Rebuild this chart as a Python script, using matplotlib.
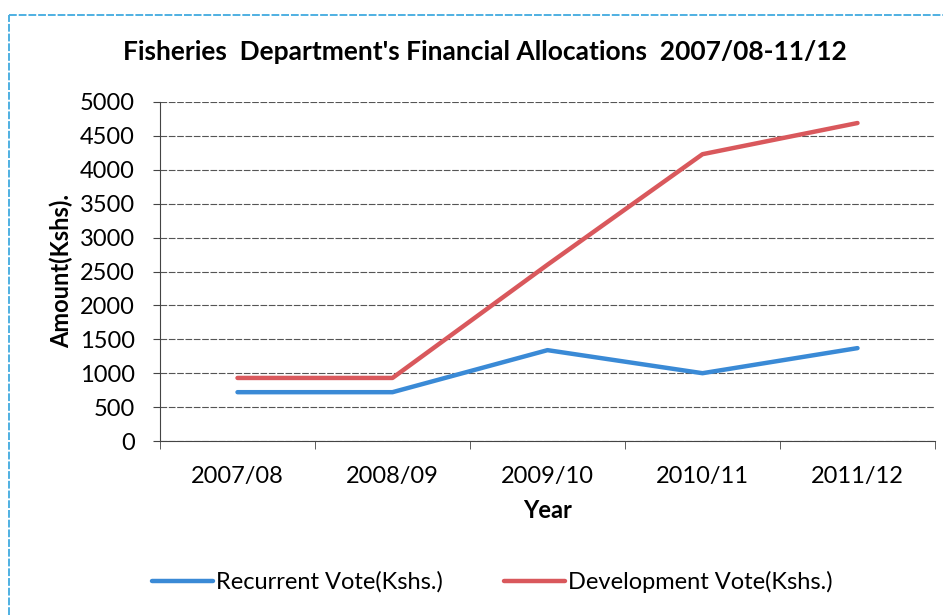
import matplotlib.pyplot as plt
from matplotlib.lines import Line2D

years = ['2007/08', '2008/09', '2009/10', '2010/11', '2011/12']
recurrent_vote = [720, 720, 1340, 1000, 1370]
development_vote = [930, 930, 2600, 4230, 4690]
y_ticks = [0, 500, 1000, 1500, 2000, 2500, 3000, 3500, 4000, 4500, 5000]

plt.rcParams['font.family'] = ['Lato', 'DejaVu Sans']

fig = plt.figure(figsize=(9.43, 6.15), dpi=100)
ax = fig.add_axes([160 / 943, 1 - 441 / 615, 775 / 943, 339 / 615])

x = list(range(len(years)))
ax.plot(x, recurrent_vote, color='#3a8ad6', lw=3.2, solid_capstyle='round',
        label='Recurrent Vote(Kshs.)')
ax.plot(x, development_vote, color='#d9585c', lw=3.2, solid_capstyle='round',
        label='Development Vote(Kshs.)')

ax.set_xlim(-0.5, len(years) - 0.5)
ax.set_ylim(0, 5000)
ax.set_yticks(y_ticks)
ax.set_yticklabels([str(v) for v in y_ticks], fontsize=17)
ax.set_xticks(x)
ax.set_xticklabels(years, fontsize=17)
ax.set_xticks([i - 0.5 for i in range(len(years) + 1)], minor=True)
ax.tick_params(axis='x', which='major', length=0, pad=18)
ax.tick_params(axis='x', which='minor', length=6, direction='out', color='#444')
ax.tick_params(axis='y', length=5, direction='out', color='#444', pad=13)

ax.grid(axis='y', color='#555555', lw=0.8, ls=(0, (6, 1.5)))
ax.set_axisbelow(True)
for side in ['top', 'right']:
    ax.spines[side].set_visible(False)
ax.spines['left'].set_color('#444')
ax.spines['bottom'].set_color('#444')

ax.set_xlabel('Year', fontsize=17, fontweight='bold', labelpad=9)
ax.set_ylabel('Amount(Kshs).', fontsize=17, fontweight='bold', labelpad=5)

fig.text(485 / 943, 1 - 52 / 615, "Fisheries  Department's Financial Allocations  2007/08-11/12",
         ha='center', va='center', fontsize=19, fontweight='bold')

fig.legend(loc='center', bbox_to_anchor=(492 / 943, 1 - 582 / 615), ncol=2,
           frameon=False, fontsize=17, handlelength=2.6, handletextpad=0.1,
           columnspacing=2.6)

# light blue frame along the top and left edges
frame = dict(transform=fig.transFigure, color='#4fb0e2', lw=1.4, ls=(0, (4, 1)))
fig.lines.append(Line2D([9 / 943, 1.0], [1 - 15 / 615] * 2, **frame))
fig.lines.append(Line2D([9 / 943] * 2, [0.0, 1 - 15 / 615], **frame))

fig.savefig('out.png', dpi=100)
